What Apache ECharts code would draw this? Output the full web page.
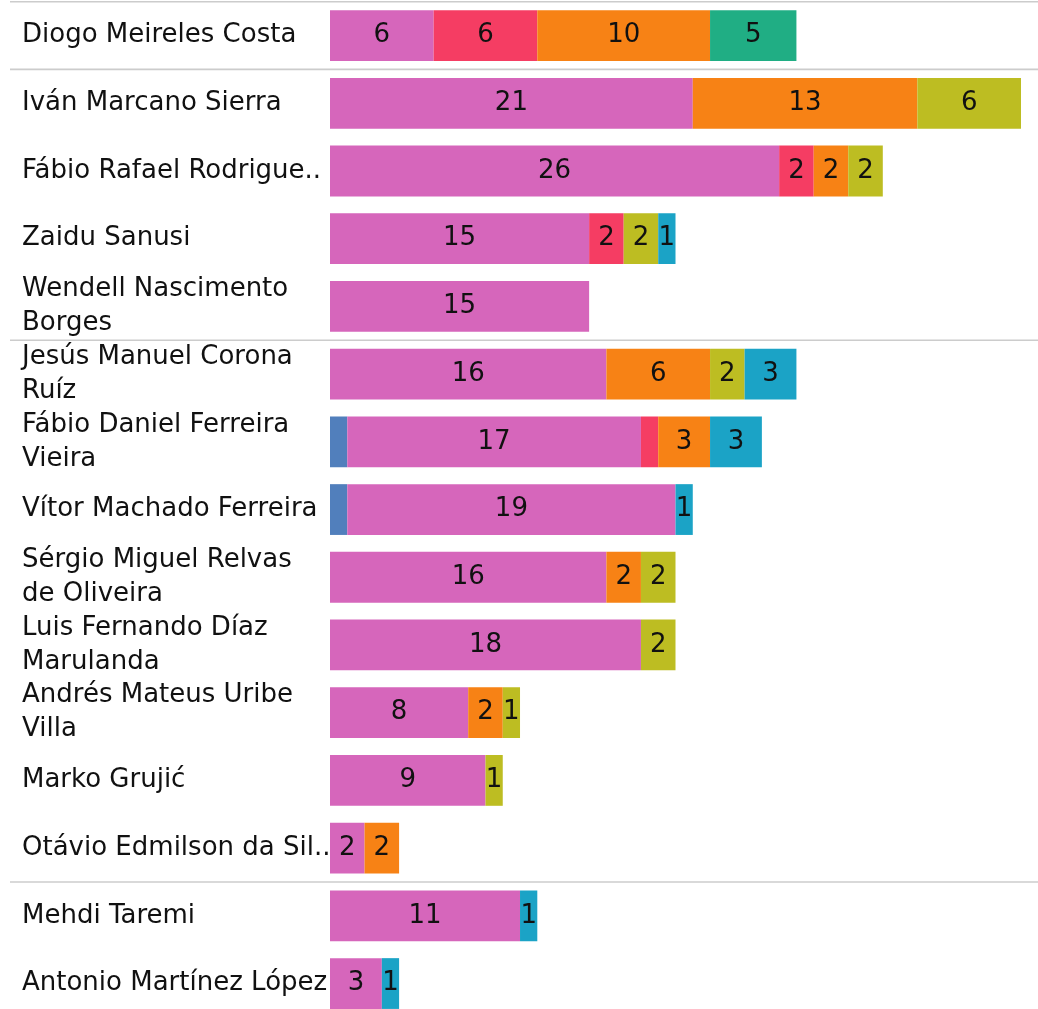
<!DOCTYPE html>
<html>
<head>
<meta charset="utf-8">
<script src="https://cdn.jsdelivr.net/npm/echarts@6/dist/echarts.min.js"></script>
<style>
  html, body { margin: 0; padding: 0; background: #ffffff; overflow: hidden; }
  #chart { width: 1038px; height: 1030px; }
</style>
</head>
<body>
<div id="chart"></div>
<script>
// Player names as shown on the axis (long names wrapped or shortened)
const players = [
  'Diogo Meireles Costa',
  'Iván Marcano Sierra',
  'Fábio Rafael Rodrigue..',
  'Zaidu Sanusi',
  'Wendell Nascimento\nBorges',
  'Jesús Manuel Corona\nRuíz',
  'Fábio Daniel Ferreira\nVieira',
  'Vítor Machado Ferreira',
  'Sérgio Miguel Relvas\nde Oliveira',
  'Luis Fernando Díaz\nMarulanda',
  'Andrés Mateus Uribe\nVilla',
  'Marko Grujić',
  'Otávio Edmilson da Sil..',
  'Mehdi Taremi',
  'Antonio Martínez López'
];

// Index of the first player in each group (a separator is drawn above it)
const groupStarts = [0, 1, 5, 13];

// Stacked segment values per player, in stacking order
const blueVals   = [0, 0, 0, 0, 0, 0, 1, 1, 0, 0, 0, 0, 0, 0, 0];
const pinkVals   = [6, 21, 26, 15, 15, 16, 17, 19, 16, 18, 8, 9, 2, 11, 3];
const redVals    = [6, 0, 2, 2, 0, 0, 1, 0, 0, 0, 0, 0, 0, 0, 0];
const orangeVals = [10, 13, 2, 0, 0, 6, 3, 0, 2, 0, 2, 0, 2, 0, 0];
const greenVals  = [5, 0, 0, 0, 0, 0, 0, 0, 0, 0, 0, 0, 0, 0, 0];
const oliveVals  = [0, 6, 2, 2, 0, 2, 0, 0, 2, 2, 1, 1, 0, 0, 0];
const cyanVals   = [0, 0, 0, 1, 0, 3, 3, 1, 0, 0, 0, 0, 0, 1, 1];

const seriesDefs = [
  { key: 'blue',   vals: blueVals,   color: '#517fbc' },
  { key: 'pink',   vals: pinkVals,   color: '#d666bb' },
  { key: 'red',    vals: redVals,    color: '#f53d63' },
  { key: 'orange', vals: orangeVals, color: '#f78215' },
  { key: 'green',  vals: greenVals,  color: '#20ae84' },
  { key: 'olive',  vals: oliveVals,  color: '#bdbd22' },
  { key: 'cyan',   vals: cyanVals,   color: '#1ba3c6' }
];

const FONT = '"DejaVu Sans", sans-serif';

// Last non-empty segment of each row; its label may spill past a narrow bar
const lastSeg = players.map((_, i) => {
  let last = -1;
  seriesDefs.forEach((s, k) => { if (s.vals[i] > 0) last = k; });
  return last;
});

const series = seriesDefs.map((s, k) => ({
  name: s.key,
  type: 'bar',
  stack: 'total',
  barCategoryGap: '25%',
  itemStyle: { color: s.color },
  label: {
    show: true,
    position: 'inside',
    color: '#111111',
    fontSize: 26,
    fontFamily: FONT,
    textBorderWidth: 0
  },
  emphasis: { disabled: true },
  data: s.vals.map((v, i) => {
    if (!v) return { value: null };
    const showLabel = v > 1 || lastSeg[i] === k;
    return { value: v, label: { show: showLabel } };
  })
}));

const chart = echarts.init(document.getElementById('chart'), null, { renderer: 'canvas' });

chart.setOption({
  animation: false,
  backgroundColor: '#ffffff',
  grid: { left: 330, top: 1.7, width: 691, height: 1015.7, containLabel: false },
  xAxis: {
    type: 'value',
    min: 0,
    max: 40,
    show: false
  },
  yAxis: {
    type: 'category',
    data: players,
    inverse: true,
    axisLine: { show: false },
    axisTick: { show: false },
    splitLine: { show: false },
    axisLabel: {
      align: 'left',
      margin: 308,
      color: '#111111',
      fontSize: 26,
      lineHeight: 34,
      fontFamily: FONT
    }
  },
  series: series
});

// Group separators spanning the full width, placed on band edges of the y axis
const c0 = chart.convertToPixel({ yAxisIndex: 0 }, players[0]);
const c1 = chart.convertToPixel({ yAxisIndex: 0 }, players[1]);
const band = c1 - c0;
const lines = groupStarts.map(idx => {
  const y = chart.convertToPixel({ yAxisIndex: 0 }, players[idx]) - band / 2;
  return {
    type: 'line',
    shape: { x1: 10, y1: y, x2: 1038, y2: y },
    style: { stroke: '#cccccc', lineWidth: 1.6 },
    z: 10,
    silent: true
  };
});
chart.setOption({ graphic: lines });
</script>
</body>
</html>
